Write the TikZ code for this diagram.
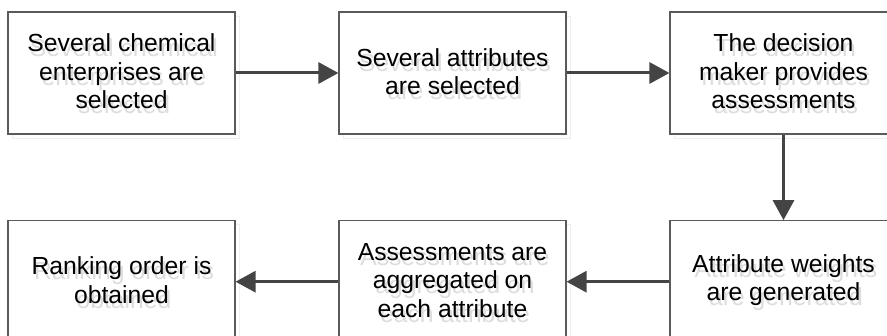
\documentclass[tikz,border=0pt]{standalone}
\usepackage{fontspec}
\setmainfont{Liberation Sans}
\usetikzlibrary{arrows.meta,shadows}
\definecolor{boxline}{HTML}{5A5A5A}
\definecolor{arrowc}{HTML}{444444}
\definecolor{ghost}{HTML}{DDDDDD}
\begin{document}
\begin{tikzpicture}[x=1pt,y=-1pt,
  stepbox/.style={draw=boxline, line width=1.1pt, fill=white,
    minimum width=227pt, minimum height=122pt, inner sep=0pt,
    drop shadow={shadow xshift=4pt, shadow yshift=-4pt, draw=ghost, fill=none, line width=0.8pt}},
  lbl/.style={align=center, inner sep=0pt, font=\fontsize{24.7}{28.5}\selectfont, text=black},
  ghostlbl/.style={lbl, text=ghost, xshift=2.5pt, yshift=-3.5pt},
  conn/.style={draw=arrowc, line width=3pt, -{Triangle[length=20pt,width=21pt]}}]
\useasboundingbox (0,0) rectangle (887,336);
% boxes
\node[stepbox] (b1) at (121.5,73) {};
\node[stepbox] (b2) at (452.5,73) {};
\node[stepbox] (b3) at (783.5,73) {};
\node[stepbox] (b4) at (783.5,281.7) {};
\node[stepbox] (b5) at (452.5,281.7) {};
\node[stepbox] (b6) at (121.5,281.7) {};
% text shadows
\node[ghostlbl] (g1) at (b1) {Several chemical\\enterprises are\\selected};
\node[ghostlbl] (g2) at (b2) {Several attributes\\are selected};
\node[ghostlbl] (g3) at (b3) {The decision\\maker provides\\assessments};
\node[ghostlbl] (g4) at (b4) {Attribute weights\\are generated};
\node[ghostlbl] (g5) at (b5) {Assessments are\\aggregated on\\each attribute};
\node[ghostlbl] (g6) at (b6) {Ranking order is\\obtained};
% texts
\node[lbl] (t1) at ([yshift=1.5pt]b1) {Several chemical\\enterprises are\\selected};
\node[lbl] (t2) at ([yshift=1.5pt]b2) {Several attributes\\are selected};
\node[lbl] (t3) at ([yshift=1.5pt]b3) {The decision\\maker provides\\assessments};
\node[lbl] (t4) at ([yshift=1.5pt]b4) {Attribute weights\\are generated};
\node[lbl] (t5) at ([yshift=1.5pt]b5) {Assessments are\\aggregated on\\each attribute};
\node[lbl] (t6) at ([yshift=1.5pt]b6) {Ranking order is\\obtained};
% connectors
\draw[conn] (b1) -- (b2);
\draw[conn] (b2) -- (b3);
\draw[conn] (b3) -- (b4);
\draw[conn] (b4) -- (b5);
\draw[conn] (b5) -- (b6);
\end{tikzpicture}
\end{document}
